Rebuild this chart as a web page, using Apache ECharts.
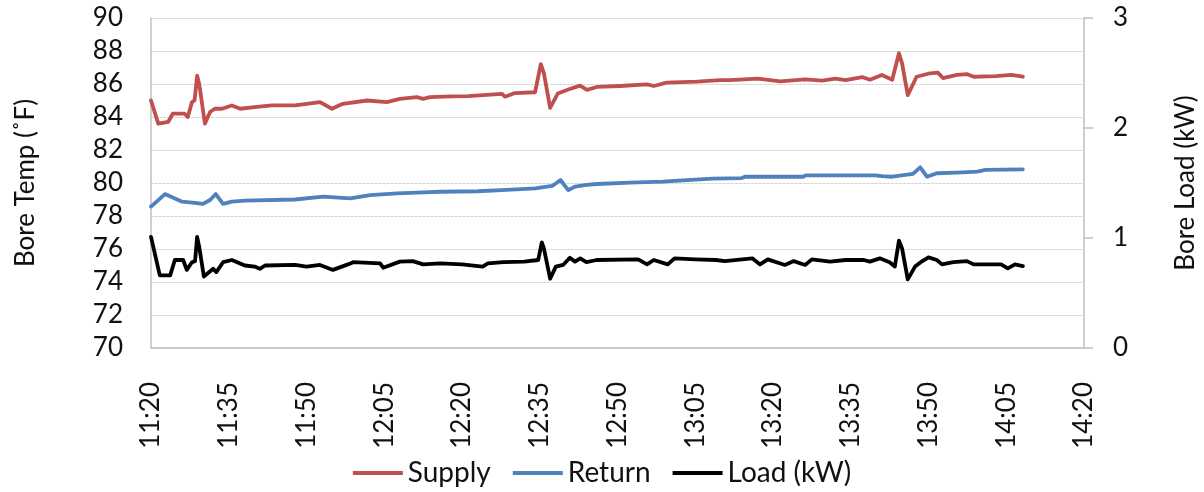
<!DOCTYPE html>
<html>
<head>
<meta charset="utf-8">
<script src="https://cdn.jsdelivr.net/npm/echarts@6/dist/echarts.min.js"></script>
<style>
  html, body { margin: 0; padding: 0; background: #fff; }
  #chart { width: 1204px; height: 492px; }
</style>
</head>
<body>
<div id="chart"></div>
<script>
// Clock time of the first sample; x values are minutes after it.
const startClock = '11:20';

// Supply temperature (°F)
const supplyMinutes = [0, 1.4, 3.3, 4.2, 6.5, 7.1, 7.9, 8.4, 8.9, 9.3, 10.4, 11.4, 12.3, 13.7, 15.6, 17.2, 20, 23.3, 27.8, 32.6, 34.9, 37, 41.7, 45.5, 48, 51.3, 52.5, 53.8, 58, 61.2, 67.7, 68.3, 70.2, 74.1, 75.2, 75.8, 77, 78.5, 80.5, 82.8, 84.1, 86, 90.5, 95.7, 97, 99.5, 105.3, 109.8, 111.7, 117.1, 121.4, 126.2, 129.5, 132, 134, 137.2, 138.7, 141, 143, 144.3, 144.9, 146, 147.7, 150.3, 151.8, 152.8, 155.5, 157.4, 158.7, 163, 166, 168.2];
const supplyTemp = [85.0, 83.6, 83.7, 84.2, 84.2, 84.0, 84.9, 85.0, 86.5, 86.0, 83.6, 84.3, 84.5, 84.5, 84.7, 84.5, 84.6, 84.7, 84.7, 84.9, 84.5, 84.8, 85.0, 84.9, 85.1, 85.2, 85.1, 85.2, 85.25, 85.27, 85.4, 85.23, 85.45, 85.5, 87.2, 86.65, 84.55, 85.43, 85.67, 85.9, 85.64, 85.82, 85.88, 85.98, 85.88, 86.08, 86.14, 86.24, 86.24, 86.32, 86.16, 86.28, 86.2, 86.32, 86.24, 86.42, 86.26, 86.55, 86.26, 87.86, 87.25, 85.33, 86.44, 86.65, 86.69, 86.36, 86.55, 86.6, 86.44, 86.48, 86.55, 86.44];

// Return temperature (°F)
const returnMinutes = [0, 2.7, 6, 8.5, 10, 11.4, 12.5, 13.9, 15.6, 18.1, 27.8, 33.2, 38.4, 42.3, 47.5, 51.3, 55.8, 63, 67.7, 74.1, 77.4, 79, 80.5, 81.8, 84, 86, 92.4, 98.8, 103.4, 108.4, 114, 114.6, 125.8, 126.3, 139.7, 141, 143, 147, 148.4, 149.7, 151.6, 155.5, 159.4, 161, 168.2];
const returnTemp = [78.57, 79.33, 78.87, 78.8, 78.73, 78.97, 79.33, 78.73, 78.87, 78.93, 79.0, 79.17, 79.07, 79.27, 79.37, 79.42, 79.47, 79.5, 79.57, 79.68, 79.82, 80.18, 79.57, 79.78, 79.88, 79.94, 80.02, 80.08, 80.18, 80.26, 80.3, 80.38, 80.38, 80.46, 80.46, 80.42, 80.38, 80.55, 80.95, 80.38, 80.59, 80.63, 80.69, 80.79, 80.83];

// Bore load (kW), right axis
const loadMinutes = [0, 1.7, 3.7, 4.6, 6.2, 6.9, 7.9, 8.5, 8.9, 9.3, 10.2, 12, 12.6, 13.9, 15.6, 18.1, 20, 21, 22, 27.8, 30, 32.6, 35.1, 38, 39, 44.2, 44.8, 48, 50.5, 52.5, 55.8, 60, 64, 65, 68, 72, 74.7, 75.4, 75.8, 77, 78.1, 79.5, 80.8, 81.8, 82.8, 84, 86, 94, 95.7, 97, 99.7, 101, 105, 109, 110.7, 116, 117.5, 119, 122.3, 124, 126.2, 127.5, 131, 134, 137.5, 138.7, 140.6, 142.5, 143.5, 144.3, 144.9, 146, 147.4, 148.5, 150, 151.6, 152.6, 154.8, 157.4, 158.7, 164, 165.3, 166.7, 168.2];
const loadKW = [1.01, 0.66, 0.66, 0.80, 0.80, 0.71, 0.78, 0.79, 1.01, 0.92, 0.65, 0.72, 0.69, 0.78, 0.80, 0.75, 0.74, 0.72, 0.75, 0.755, 0.74, 0.755, 0.71, 0.76, 0.78, 0.77, 0.73, 0.785, 0.79, 0.76, 0.77, 0.76, 0.74, 0.77, 0.78, 0.785, 0.8, 0.96, 0.905, 0.63, 0.74, 0.755, 0.82, 0.785, 0.815, 0.78, 0.80, 0.806, 0.76, 0.8, 0.76, 0.815, 0.806, 0.80, 0.79, 0.815, 0.76, 0.806, 0.755, 0.79, 0.755, 0.806, 0.785, 0.80, 0.80, 0.785, 0.815, 0.78, 0.74, 0.976, 0.906, 0.624, 0.74, 0.78, 0.824, 0.8, 0.76, 0.78, 0.79, 0.76, 0.76, 0.724, 0.76, 0.745];

// Axis ranges
const xSpanMinutes = 180, xStepMinutes = 15;
const tempMin = 70, tempMax = 90, tempStep = 2;
const loadMin = 0, loadMax = 3, loadStep = 1;

const FONT = 'Lato, "Open Sans", sans-serif';
const TEXT = '#111';
const AXIS_GREY = '#bfbfbf';

function pairUp(xs, ys) { return xs.map((x, i) => [x, ys[i]]); }

function clockLabel(mins) {
  const [h0, m0] = startClock.split(':').map(Number);
  const total = h0 * 60 + m0 + Math.round(mins);
  const h = Math.floor(total / 60), m = total % 60;
  return h + ':' + String(m).padStart(2, '0');
}

const chart = echarts.init(document.getElementById('chart'), null, { renderer: 'canvas' });

chart.setOption({
  animation: false,
  backgroundColor: '#fff',
  textStyle: { fontFamily: FONT },
  grid: { left: 151, right: 120, top: 18, bottom: 144, containLabel: false, outerBoundsMode: 'none' },
  legend: {
    bottom: 0,
    left: 'center',
    icon: 'rect',
    itemWidth: 50,
    itemHeight: 4,
    itemGap: 22,
    textStyle: { fontFamily: FONT, fontSize: 28, color: TEXT },
    data: ['Supply', 'Return', 'Load (kW)']
  },
  xAxis: {
    type: 'value',
    min: 0,
    max: xSpanMinutes,
    interval: xStepMinutes,
    axisLine: { show: true, lineStyle: { color: AXIS_GREY, width: 1.5 } },
    axisTick: { show: false },
    splitLine: { show: false },
    axisLabel: {
      rotate: 90,
      margin: 34,
      fontSize: 26,
      fontFamily: FONT,
      color: TEXT,
      formatter: v => clockLabel(v)
    }
  },
  yAxis: [
    {
      type: 'value',
      min: tempMin,
      max: tempMax,
      interval: tempStep,
      name: 'Bore Temp (˚F)',
      nameLocation: 'middle',
      nameRotate: 90,
      nameGap: 112,
      nameTextStyle: { fontSize: 26, fontFamily: FONT, color: TEXT },
      axisLine: { show: true, lineStyle: { color: AXIS_GREY, width: 1.5 } },
      axisTick: { show: false },
      axisLabel: { margin: 28, fontSize: 26, fontFamily: FONT, color: TEXT },
      splitLine: { show: true, lineStyle: { color: '#d4d4d4', width: 1.2, type: [3, 1] } }
    },
    {
      type: 'value',
      min: loadMin,
      max: loadMax,
      interval: loadStep,
      position: 'right',
      name: 'Bore Load (kW)',
      nameLocation: 'middle',
      nameRotate: 90,
      nameGap: 89,
      nameTextStyle: { fontSize: 26, fontFamily: FONT, color: TEXT },
      axisLine: { show: true, lineStyle: { color: AXIS_GREY, width: 1.5 } },
      axisTick: { show: true, inside: false, length: 9, lineStyle: { color: AXIS_GREY, width: 1.5 } },
      axisLabel: { margin: 29, fontSize: 26, fontFamily: FONT, color: TEXT },
      splitLine: { show: false }
    }
  ],
  series: [
    {
      name: 'Supply',
      type: 'line',
      yAxisIndex: 0,
      showSymbol: false,
      symbol: 'none',
      lineStyle: { color: '#c0504d', width: 3.8, join: 'round', cap: 'round' },
      itemStyle: { color: '#c0504d' },
      data: pairUp(supplyMinutes, supplyTemp)
    },
    {
      name: 'Return',
      type: 'line',
      yAxisIndex: 0,
      showSymbol: false,
      symbol: 'none',
      lineStyle: { color: '#4f81bd', width: 3.8, join: 'round', cap: 'round' },
      itemStyle: { color: '#4f81bd' },
      data: pairUp(returnMinutes, returnTemp)
    },
    {
      name: 'Load (kW)',
      type: 'line',
      yAxisIndex: 1,
      showSymbol: false,
      symbol: 'none',
      lineStyle: { color: '#000000', width: 3.8, join: 'round', cap: 'round' },
      itemStyle: { color: '#000000' },
      data: pairUp(loadMinutes, loadKW)
    }
  ]
});
</script>
</body>
</html>
